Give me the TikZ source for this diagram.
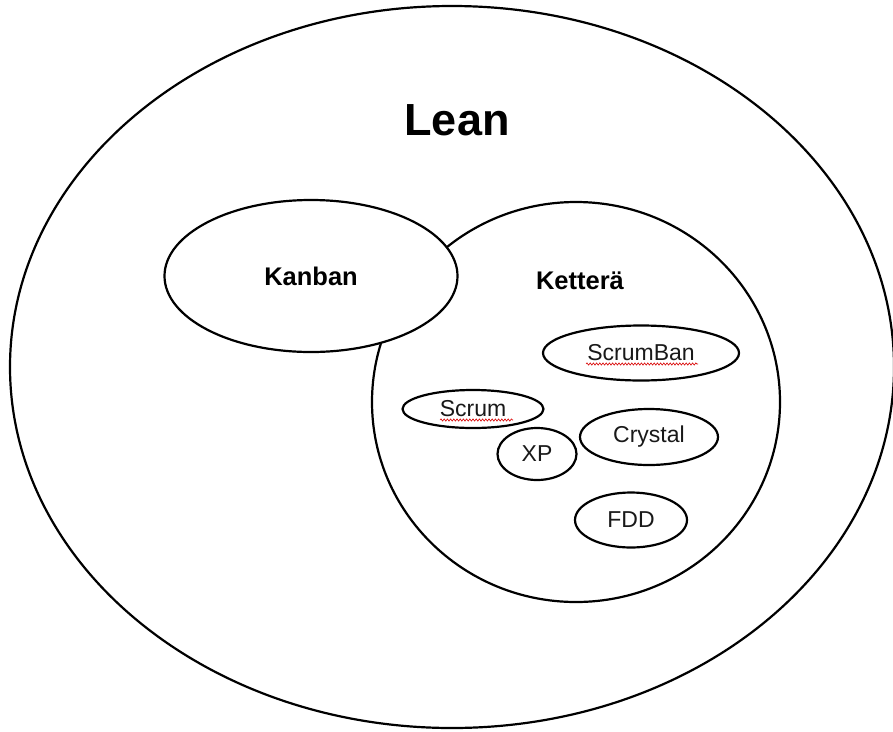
\documentclass[tikz,border=0pt]{standalone}
\usepackage{fontspec}
\setmainfont{Liberation Sans}
\usetikzlibrary{shapes.geometric,decorations.pathmorphing}
\begin{document}
\begin{tikzpicture}[x=1pt,y=-1pt,
  oval/.style={draw=black, line width=2.2pt, ellipse, inner sep=0pt, fill=white},
  small/.style={font=\fontsize{23}{27}\selectfont, text=black!90},
  mid/.style={font=\fontsize{25.5}{30}\selectfont\bfseries},
  wavy/.style={draw=red!85!black, line width=0.6pt, decorate, decoration={snake, amplitude=1.1pt, segment length=3.2pt}}]
\useasboundingbox (0,0) rectangle (893,731);
\fill[white] (0,0) rectangle (893,731);
% outer Lean ellipse
\node[oval, minimum width=884pt, minimum height=722pt] (lean) at (452,367) {};
\node[font=\fontsize{45}{54}\selectfont\bfseries] (leant) at (457,120) {Lean};
% Kettera circle
\node[oval, minimum width=408pt, minimum height=400pt] (kettera) at (576,402) {};
\node[mid] (ketterat) at (580,281) {Ketterä};
% Kanban
\node[oval, minimum width=293pt, minimum height=152pt, mid] (kanban) at (311,276) {Kanban};
% inner methods
\node[oval, minimum width=196pt, minimum height=55pt, small] (scrumban) at (641,353) {ScrumBan};
\node[oval, minimum width=141pt, minimum height=38pt, small] (scrum) at (473,409) {Scrum};
\node[oval, minimum width=79pt, minimum height=52pt, small] (xp) at (537,454) {XP};
\node[oval, minimum width=138pt, minimum height=56pt, small] (crystal) at (649,437) {Crystal};
\node[oval, minimum width=112pt, minimum height=55pt, small] (fdd) at (631,520) {FDD};
% spell-check underlines
\coordinate (sb1) at (586,364);
\coordinate (sb2) at (698,364);
\coordinate (s1) at (440,420);
\coordinate (s2) at (513,420);
\draw[wavy] (sb1) -- (sb2);
\draw[wavy] (s1) -- (s2);
\end{tikzpicture}
\end{document}
